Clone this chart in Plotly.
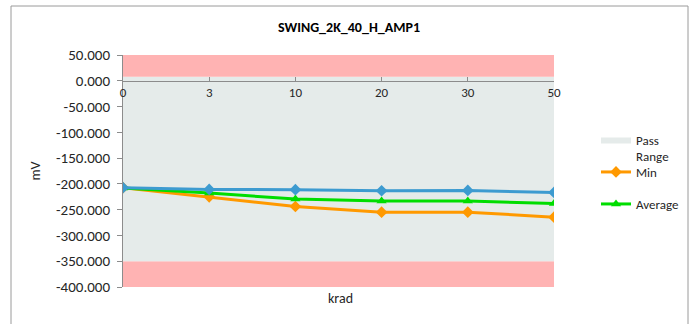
import plotly.graph_objects as go

# ---- data ----
categories = ["0", "3", "10", "20", "30", "50"]
max_vals = [-207.4, -210.7, -211.3, -213.3, -212.7, -216.6]
min_vals = [-207.4, -225.0, -243.9, -254.8, -254.8, -264.6]
avg_vals = [-208.0, -217.8, -229.5, -233.4, -233.4, -238.0]

pass_low = -350.0
pass_high = 8.0
limit_top = 50.0
limit_bottom = -400.0
y_ticks = [50, 0, -50, -100, -150, -200, -250, -300, -350, -400]
y_tick_labels = ["50.000", "0.000", "-50.000", "-100.000", "-150.000", "-200.000",
                 "-250.000", "-300.000", "-350.000", "-400.000"]

title_text = "SWING_2K_40_H_AMP1"
x_title = "krad"
y_title = "mV"

FONT = "Carlito, Calibri, Lato, sans-serif"
TXT = "#262626"
PINK = "#ffb3b3"
PASS = "#e5ebea"

n = len(categories)
fig = go.Figure()

# bands (stacked fills)
fig.add_trace(go.Scatter(x=categories, y=[limit_bottom] * n, mode="lines",
                         line=dict(width=0, color=PINK), showlegend=False, hoverinfo="skip"))
fig.add_trace(go.Scatter(x=categories, y=[pass_low] * n, mode="lines", fill="tonexty",
                         fillcolor=PINK, line=dict(width=0, color=PINK),
                         showlegend=False, hoverinfo="skip"))
fig.add_trace(go.Scatter(x=categories, y=[pass_high] * n, mode="lines", fill="tonexty",
                         fillcolor=PASS, line=dict(width=0, color=PASS),
                         name="Pass<br>Range", legend="legend", hoverinfo="skip"))
fig.add_trace(go.Scatter(x=categories, y=[limit_top] * n, mode="lines", fill="tonexty",
                         fillcolor=PINK, line=dict(width=0, color=PINK),
                         showlegend=False, hoverinfo="skip"))

# series
fig.add_trace(go.Scatter(x=categories, y=min_vals, mode="lines+markers", name="Min",
                         line=dict(color="#ff9900", width=3),
                         marker=dict(symbol="diamond", size=9, color="#ff9900"),
                         legend="legend2"))
fig.add_trace(go.Scatter(x=categories, y=avg_vals, mode="lines+markers", name="Average",
                         line=dict(color="#00dd00", width=3),
                         marker=dict(symbol="triangle-up", size=9, color="#00dd00"),
                         legend="legend3"))
fig.add_trace(go.Scatter(x=categories, y=max_vals, mode="lines+markers", name="Max",
                         line=dict(color="#3d9bd0", width=3),
                         marker=dict(symbol="diamond", size=9, color="#3d9bd0"),
                         showlegend=False))

L, R, T, B = 123, 142, 55, 37
W, H = 696, 324
pw, ph = W - L - R, H - T - B

def px_x(x):
    return (x - L) / pw

def px_y(y):
    return (H - B - y) / ph

legend_common = dict(font=dict(family=FONT, size=13, color=TXT), bgcolor="rgba(0,0,0,0)",
                     xanchor="left", yanchor="middle", itemwidth=30, valign="top")

fig.update_layout(
    width=W, height=H,
    margin=dict(l=L, r=R, t=T, b=B, autoexpand=False),
    paper_bgcolor="white", plot_bgcolor="white",
    font=dict(family=FONT, size=13, color=TXT),
    title=dict(text="<b>" + title_text + "</b>", x=(349 - L) / pw, xref="paper", xanchor="center",
               y=1 - 27 / H, yanchor="middle", font=dict(family=FONT, size=14, color="#000")),
    xaxis=dict(type="category", range=[0, n - 1], anchor="free",
               position=(0 - limit_bottom) / (limit_top - limit_bottom),
               showline=True, linecolor="#8c8c8c", linewidth=1,
               ticks="inside", ticklen=4, tickcolor="#8c8c8c",
               showgrid=False, zeroline=False,
               tickfont=dict(family=FONT, size=13, color=TXT)),
    yaxis=dict(range=[limit_bottom, limit_top], tickvals=y_ticks, ticktext=y_tick_labels,
               showline=True, linecolor="#8c8c8c", linewidth=1,
               ticks="outside", ticklen=5, tickcolor="#8c8c8c", ticklabelstandoff=4,
               showgrid=False, zeroline=False,
               title=dict(text=y_title, standoff=12, font=dict(family=FONT, size=14, color=TXT)),
               tickfont=dict(family=FONT, size=15, color=TXT)),
    legend=dict(x=px_x(596), y=px_y(148), **legend_common),
    legend2=dict(x=px_x(596), y=px_y(172), **legend_common),
    legend3=dict(x=px_x(596), y=px_y(204), **legend_common),
    annotations=[dict(text=x_title, x=(340 - L) / pw, y=px_y(298), xref="paper", yref="paper",
                      showarrow=False, xanchor="center", yanchor="middle",
                      font=dict(family=FONT, size=14, color=TXT))],
    shapes=[dict(type="rect", xref="paper", yref="paper",
                 x0=px_x(11), x1=px_x(688), y0=px_y(340), y1=px_y(6),
                 line=dict(color="#9a9a9a", width=1), fillcolor="rgba(0,0,0,0)", layer="below")],
)

fig.write_html("out.html", config={"displayModeBar": False},
               post_script="document.body.style.margin='0';document.body.style.overflow='hidden';")
